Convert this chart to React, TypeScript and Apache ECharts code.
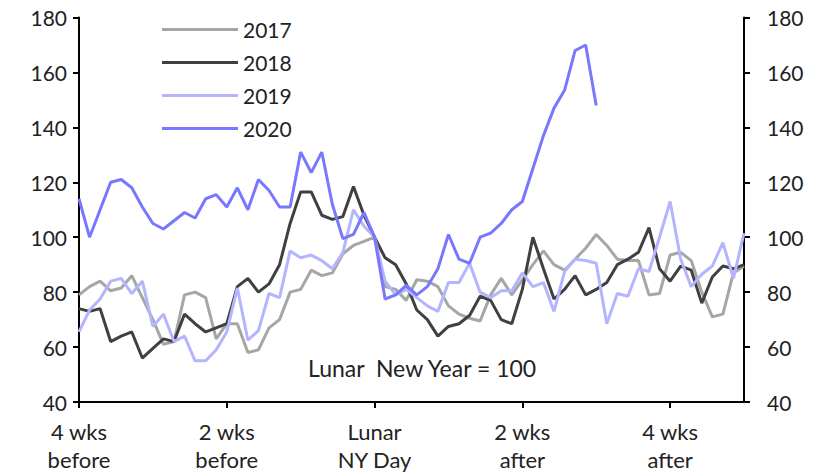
import React, { useEffect, useRef } from "react";
import * as echarts from "echarts";

const days: number[] = Array.from({ length: 64 }, (_, i) => i - 28);

const tickLabels: Record<number, string> = {
  0: "4 wks\nbefore",
  14: "2 wks\nbefore",
  28: "Lunar\nNY Day",
  42: "2 wks\nafter",
  56: "4 wks\nafter",
};

const y2017: number[] = [
  79, 82, 84, 80.5, 81.5, 86, 78, 70, 61, 62,
  79, 80, 78, 63, 68.5, 68.5, 58, 59, 67, 70,
  80, 81, 88, 86, 87, 94, 97, 98.5, 100, 82,
  81, 77, 84.5, 84, 82, 75, 72, 70.5, 69.5, 79,
  85, 79, 84.5, 90, 95, 90, 88, 92, 96, 101,
  97, 92, 91.5, 91.5, 79, 79.5, 93.5, 94.5, 91.5, 80,
  71, 72, 87, 89.5,
];

const y2018: number[] = [
  74, 73, 74, 62, 64, 65.5, 56, 59.5, 63, 62,
  72, 68.5, 65.5, 67, 68.5, 82, 85, 80, 83, 90,
  105, 116.5, 116.5, 108, 106.5, 107.5, 118.5, 108, 100, 92.5,
  90, 83, 73.5, 70, 64, 67.5, 68.5, 71.5, 78.5, 77,
  70, 68.5, 81, 100, 88.5, 77.5, 81, 86, 79, 81,
  83.5, 90, 92, 94.5, 103.5, 88.5, 84, 89.5, 88, 76,
  85.5, 89.5, 88.5, 90,
];

const y2019: number[] = [
  65.5, 73.5, 77.5, 84, 85, 79.5, 84, 67.5, 72, 62,
  64, 55, 55, 59, 65.5, 81.5, 62.5, 66, 79.5, 78,
  95, 92.5, 93.5, 91.5, 88.5, 94.5, 110, 104, 100, 84,
  79, 81, 78, 75, 73, 83.5, 83.5, 90.5, 80, 78,
  80.5, 80.5, 87, 82, 83.5, 73, 87.5, 92, 91.5, 90.5,
  68.5, 79.5, 78.5, 88.5, 87.5, 100, 113, 92, 82, 86.5,
  89.5, 98, 85, 101.5,
];

const y2020: number[] = [
  114, 100, 110, 120, 121, 118, 111, 105, 103, 106,
  109, 107, 114, 115.5, 111, 118, 110, 121, 117, 111,
  111, 131, 123.5, 131, 112, 99.5, 101, 109, 100, 77.5,
  79, 82.5, 79, 82, 88.5, 101, 92, 90.5, 100, 101.5,
  105, 110, 113, 125, 137, 147, 153.5, 168, 170, 148,
];

const seriesNames = ["2017", "2018", "2019", "2020"];
const seriesData = [y2017, y2018, y2019, y2020];
const seriesColors = ["#a6a6a6", "#404040", "#b4b4ff", "#7878ff"];

const FONT = "Lato";

export default function App() {
  const ref = useRef<HTMLDivElement>(null);

  useEffect(() => {
    if (!ref.current) return;
    const chart = echarts.init(ref.current, undefined, { renderer: "svg" });
    const axisCommon = {
      type: "value" as const,
      min: 40,
      max: 180,
      interval: 20,
      axisLine: { show: true, lineStyle: { color: "#000", width: 2 } },
      axisTick: { show: true, length: 6, lineStyle: { color: "#000", width: 2 } },
      splitLine: { show: false },
    };
    chart.setOption({
      animation: false,
      backgroundColor: "#fff",
      textStyle: { fontFamily: FONT },
      grid: { left: 79, right: 81, top: 17.5, bottom: 69, containLabel: false },
      legend: {
        orient: "vertical",
        left: 157,
        top: 14,
        icon: "rect",
        itemWidth: 76,
        itemHeight: 3,
        itemGap: 12,
        data: seriesNames,
        textStyle: { fontFamily: FONT, fontSize: 21, color: "#222" },
      },
      xAxis: {
        type: "category",
        data: days,
        boundaryGap: false,
        axisLine: { show: true, onZero: false, lineStyle: { color: "#000", width: 2 } },
        axisTick: { show: true, interval: 13, length: 6, lineStyle: { color: "#000", width: 2 } },
        axisLabel: {
          interval: 13,
          margin: 15,
          fontFamily: FONT,
          fontSize: 22,
          lineHeight: 28,
          color: "#222",
          formatter: (_v: string, idx: number) => tickLabels[idx] ?? "",
        },
      },
      yAxis: [
        {
          ...axisCommon,
          position: "left",
          axisLabel: { margin: 12, fontFamily: FONT, fontSize: 21, color: "#222" },
        },
        {
          ...axisCommon,
          position: "right",
          axisLabel: { margin: 23, fontFamily: FONT, fontSize: 21, color: "#222" },
        },
      ],
      graphic: [
        {
          type: "text",
          left: 308,
          top: 356,
          style: {
            text: "Lunar  New Year = 100",
            fontFamily: FONT,
            fontSize: 23,
            fill: "#222",
          },
        },
      ],
      series: seriesNames.map((name, k) => ({
        name,
        type: "line",
        yAxisIndex: 0,
        data: seriesData[k],
        showSymbol: false,
        symbol: "none",
        lineStyle: { color: seriesColors[k], width: 3 },
        itemStyle: { color: seriesColors[k] },
        z: k === 3 ? 5 : 2,
      })),
    });
    return () => chart.dispose();
  }, []);

  return (
    <div
      ref={ref}
      style={{ position: "fixed", left: 0, top: 0, width: 825, height: 473 }}
    />
  );
}
